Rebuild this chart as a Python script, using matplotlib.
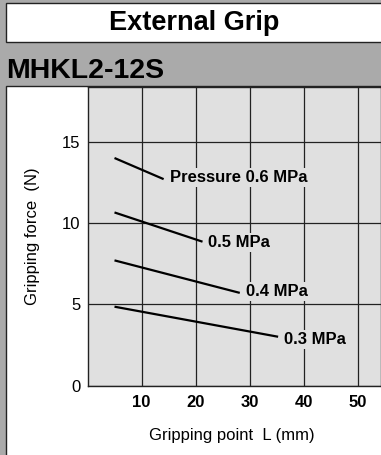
import matplotlib
matplotlib.use("Agg")
import matplotlib.pyplot as plt
from matplotlib.patches import Rectangle

plt.rcParams['font.family'] = ['Liberation Sans', 'DejaVu Sans']

# data
pressures = ['Pressure 0.6 MPa', '0.5 MPa', '0.4 MPa', '0.3 MPa']
x_start = [5, 5, 5, 5]
x_end = [14.1, 21.3, 28.2, 35.3]
y_start = [14.0, 10.65, 7.7, 4.85]
y_end = [12.7, 8.85, 5.7, 3.0]
label_y = [12.77, 8.81, 5.77, 2.86]

x_ticks = [10, 20, 30, 40, 50]
y_ticks = [0, 5, 10, 15]

W, H = 381, 455
fig = plt.figure(figsize=(W / 100, H / 100), dpi=100)
fig.patch.set_facecolor('#aaaaaa')

# title box and white panel
fig.patches.append(Rectangle((6 / W, 1 - 42 / H), 1, 39 / H, transform=fig.transFigure,
                             facecolor='white', edgecolor='#222222', lw=1.0, zorder=-5))
fig.patches.append(Rectangle((6 / W, -0.1), 1, 1.1 - 86.5 / H, transform=fig.transFigure,
                             facecolor='white', edgecolor='#222222', lw=1.0, zorder=-5))
fig.text(194 / W, 1 - 23 / H, 'External Grip', ha='center', va='center',
         fontsize=19.5, fontweight='bold')
fig.text(6 / W, 1 - 71 / H, 'MHKL2-12S', ha='left', va='center',
         fontsize=20.5, fontweight='bold')

ax = fig.add_axes([87.5 / W, (H - 385.5) / H, (W - 87.5) / W, 298.5 / H])
ax.set_facecolor('#e0e0e0')
ax.set_xlim(0, 54.35)
ax.set_ylim(0, 18.37)
ax.set_xticks(x_ticks)
ax.set_yticks(y_ticks)
ax.set_xticklabels([str(v) for v in x_ticks], fontweight='bold', fontsize=12)
ax.set_yticklabels([str(v) for v in y_ticks], fontsize=12)
ax.tick_params(length=0)
ax.tick_params(axis='x', pad=7)
ax.tick_params(axis='y', pad=5)
ax.grid(True, color='#222222', lw=0.9)
ax.set_axisbelow(True)
for s in ax.spines.values():
    s.set_color('#222222')
    s.set_linewidth(1.0)

for name, x0, x1, y0, y1, ly in zip(pressures, x_start, x_end, y_start, y_end, label_y):
    ax.plot([x0, x1], [y0, y1], color='black', lw=1.6, solid_capstyle='butt', zorder=3)
    ax.text(x1 + 1.1, ly, name, ha='left', va='center', fontsize=12, fontweight='bold',
            zorder=4, bbox=dict(facecolor='#e0e0e0', edgecolor='none', pad=1.5))

ax.set_ylabel('Gripping force  (N)', fontsize=12, va='center')
ax.yaxis.set_label_coords(-0.186, 0.5)
ax.set_xlabel('Gripping point  L (mm)', fontsize=12, va='center')
ax.xaxis.set_label_coords(0.492, -0.166)

fig.savefig('out.png', dpi=100, facecolor=fig.get_facecolor())
